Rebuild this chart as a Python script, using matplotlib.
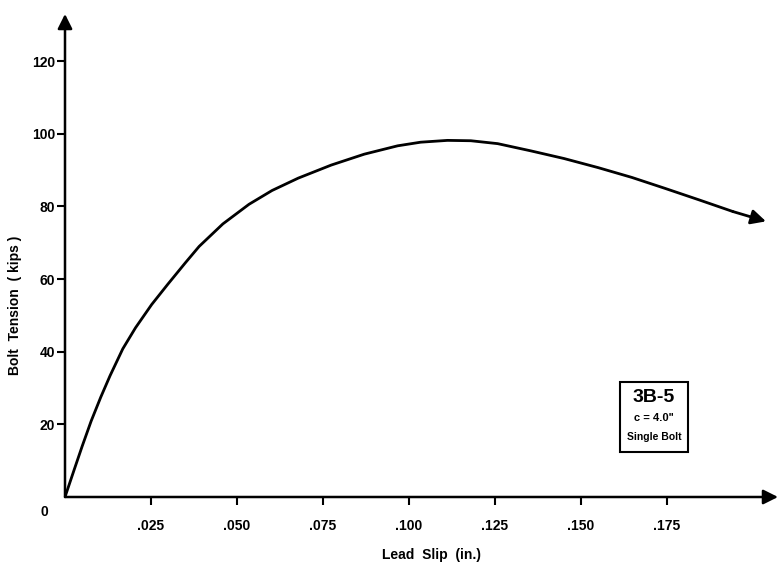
import matplotlib
matplotlib.use("Agg")
import matplotlib.pyplot as plt
from matplotlib.patches import Rectangle

# Data (lead slip in inches, bolt tension in kips)
slip = [0, 0.0027, 0.0050, 0.0076, 0.0104, 0.0131, 0.0168, 0.0205, 0.0252,
        0.0299, 0.0350, 0.0390, 0.0459, 0.0535, 0.0602, 0.0678, 0.0774,
        0.0870, 0.0967, 0.1034, 0.1112, 0.1180, 0.1258, 0.1355, 0.1451,
        0.1550, 0.1648, 0.1744, 0.1844, 0.1942, 0.2038]
tension = [0, 7.6, 14.0, 20.9, 27.5, 33.4, 40.8, 46.6, 53.0,
           58.6, 64.5, 69.0, 75.2, 80.6, 84.4, 87.8, 91.4,
           94.4, 96.7, 97.7, 98.2, 98.1, 97.3, 95.3, 93.2,
           90.7, 88.0, 85.0, 81.8, 78.6, 75.9]

x_ticks = [0.025, 0.050, 0.075, 0.100, 0.125, 0.150, 0.175]
x_labels = [".025", ".050", ".075", ".100", ".125", ".150", ".175"]
y_ticks = [20, 40, 60, 80, 100, 120]

plt.rcParams['font.family'] = ['Liberation Sans', 'DejaVu Sans']
plt.rcParams['font.weight'] = 'bold'

fig = plt.figure(figsize=(7.79, 5.69), dpi=100)
ax = fig.add_axes([65 / 779, 72 / 569, 713 / 779, 483 / 569])
ax.set_xlim(0, 0.2073)
ax.set_ylim(0, 133)

# Axes as arrows
for s in ax.spines.values():
    s.set_visible(False)
ax.annotate('', xy=(1, 0), xytext=(0, 0), xycoords='axes fraction',
            arrowprops=dict(arrowstyle='-|>', lw=1.8, color='k',
                            mutation_scale=22, shrinkA=0, shrinkB=0))
ax.annotate('', xy=(0, 1), xytext=(0, 0), xycoords='axes fraction',
            arrowprops=dict(arrowstyle='-|>', lw=1.8, color='k',
                            mutation_scale=22, shrinkA=0, shrinkB=0))

# Curve with arrow at the end
ax.plot(slip[:-1], tension[:-1], color='k', lw=2.0,
        solid_capstyle='round', solid_joinstyle='round')
ax.annotate('', xy=(slip[-1], tension[-1]), xytext=(slip[-2], tension[-2]),
            arrowprops=dict(arrowstyle='-|>', lw=2.0, color='k',
                            mutation_scale=22, shrinkA=0, shrinkB=0))

# Ticks
ax.set_xticks(x_ticks)
ax.set_xticklabels(x_labels)
ax.set_yticks(y_ticks)
ax.tick_params(axis='x', direction='out', length=6, width=1.5, pad=10,
               labelsize=10)
ax.tick_params(axis='y', direction='out', length=6, width=1.5, pad=1,
               labelsize=10)
ax.text(-0.006, -4, "0", ha='center', va='center', fontsize=10,
        fontweight='bold')

# Axis titles
fig.text(15 / 779, 1 - 305 / 569, "Bolt  Tension  ( kips )", rotation=90,
         ha='center', va='center', fontsize=10, fontweight='bold')
fig.text(432 / 779, 1 - 555 / 569, "Lead  Slip  (in.)", ha='center',
         va='center', fontsize=10, fontweight='bold')

# Specimen box
ax.add_patch(Rectangle((0.1613, 12.4), 0.0198, 19.3, fill=False,
                       lw=1.5, ec='k'))
ax.text(0.1712, 27.5, "3B-5", ha='center', va='center', fontsize=14,
        fontweight='bold')
ax.text(0.1712, 21.8, "c = 4.0\"", ha='center', va='center', fontsize=8,
        fontweight='bold')
ax.text(0.1712, 16.5, "Single Bolt", ha='center', va='center', fontsize=7.5,
        fontweight='bold')

fig.savefig("out.png", dpi=100)
